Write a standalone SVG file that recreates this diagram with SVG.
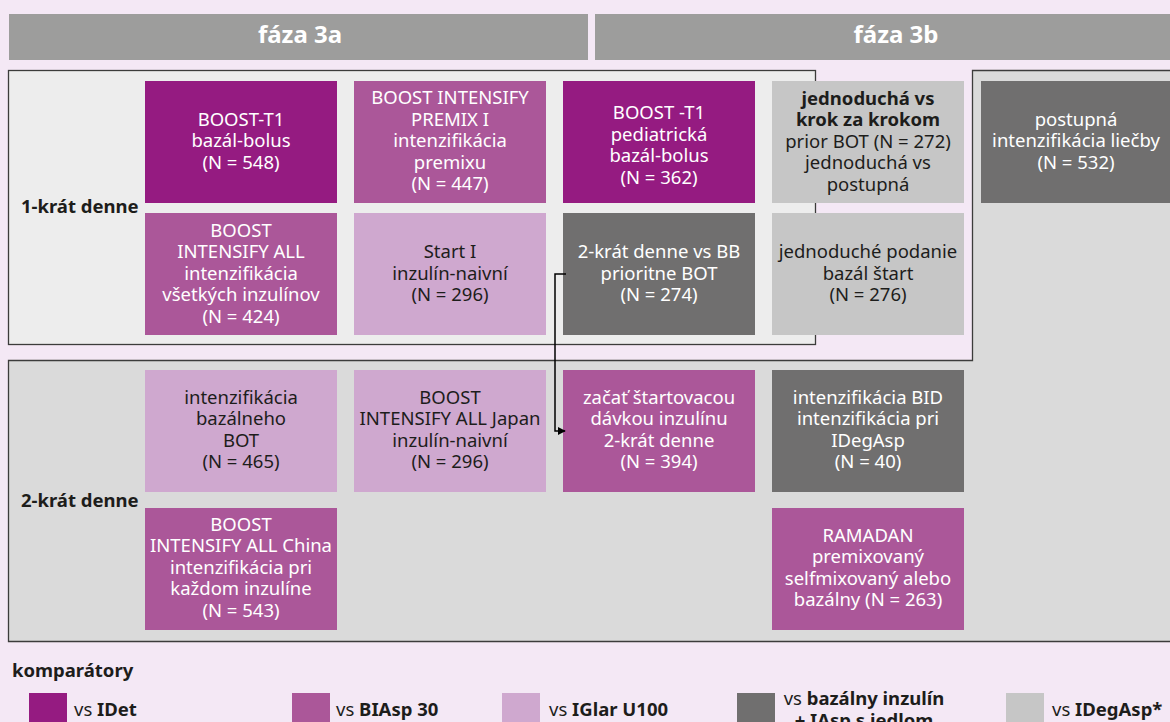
<svg xmlns="http://www.w3.org/2000/svg" width="1170" height="722" viewBox="0 0 1170 722">
<style>
text{font-family:"Noto Sans","Open Sans","Liberation Sans",sans-serif;font-size:18.5px}
.hd{font-size:24px;font-weight:bold;fill:#ffffff;text-anchor:middle}
.lbl{font-weight:bold;fill:#1d1d1b}
.b{font-weight:bold}
.idet{fill:#951b81}
.biasp{fill:#ab5799}
.iglar{fill:#cfa8cf}
.basal{fill:#706f6f}
.idegasp{fill:#c6c6c6}
.tw{fill:#ffffff;text-anchor:middle}
.td{fill:#1d1d1b;text-anchor:middle}
.lg{fill:#1d1d1b}
.conn{fill:none;stroke:#000000;stroke-width:1.5}
</style>
<defs>
<marker id="arr" viewBox="0 0 10 10" refX="9" refY="5" markerWidth="8" markerHeight="8" markerUnits="userSpaceOnUse" orient="auto">
<path d="M0,0 L10,5 L0,10 Z" fill="#000000"/>
</marker>
</defs>
<rect x="0" y="0" width="1170" height="722" fill="#f4e8f5"/>
<g id="headers">
<rect x="9" y="14" width="579" height="46" fill="#9d9d9c"/>
<rect x="595" y="14" width="600" height="46" fill="#9d9d9c"/>
<text class="hd" x="300" y="43">fáza 3a</text>
<text class="hd" x="896" y="43">fáza 3b</text>
</g>
<g id="containers">
<path d="M8.5,360.5 H972.5 V70.5 H1180 V641.5 H8.5 Z" fill="#dadada" stroke="#3c3c3b" stroke-width="1.3"/>
<rect x="8.5" y="70.5" width="807" height="274" fill="#ededed" stroke="#3c3c3b" stroke-width="1.3"/>
<text class="lbl" x="21" y="213">1-krát denne</text>
<text class="lbl" x="21" y="507">2-krát denne</text>
</g>
<g id="n1"><rect class="idet" x="145" y="81" width="192" height="122"/>
<text class="tw" x="241" y="125.5">BOOST-T1</text><text class="tw" x="241" y="147">bazál-bolus</text><text class="tw" x="241" y="168.5">(N = 548)</text></g>
<g id="n2"><rect class="biasp" x="354" y="81" width="192" height="122"/>
<text class="tw" x="450" y="104">BOOST INTENSIFY</text><text class="tw" x="450" y="125.5">PREMIX I</text><text class="tw" x="450" y="147">intenzifikácia</text><text class="tw" x="450" y="168.5">premixu</text><text class="tw" x="450" y="190">(N = 447)</text></g>
<g id="n3"><rect class="idet" x="563" y="81" width="192" height="122"/>
<text class="tw" x="659" y="119">BOOST -T1</text><text class="tw" x="659" y="140.5">pediatrická</text><text class="tw" x="659" y="162">bazál-bolus</text><text class="tw" x="659" y="183.5">(N = 362)</text></g>
<g id="n4"><rect class="idegasp" x="772" y="81" width="192" height="122"/>
<text class="td b" x="868" y="104.5">jednoduchá vs</text><text class="td b" x="868" y="126">krok za krokom</text><text class="td" x="868" y="147.5">prior BOT (N = 272)</text><text class="td" x="868" y="169">jednoduchá vs</text><text class="td" x="868" y="190.5">postupná</text></g>
<g id="n5"><rect class="basal" x="981" y="81" width="192" height="122"/>
<text class="tw" x="1076" y="125.5">postupná</text><text class="tw" x="1076" y="147">intenzifikácia liečby</text><text class="tw" x="1076" y="168.5">(N = 532)</text></g>
<g id="n6"><rect class="biasp" x="145" y="213" width="192" height="122"/>
<text class="tw" x="241" y="236.5">BOOST</text><text class="tw" x="241" y="258">INTENSIFY ALL</text><text class="tw" x="241" y="279.5">intenzifikácia</text><text class="tw" x="241" y="301">všetkých inzulínov</text><text class="tw" x="241" y="322.5">(N = 424)</text></g>
<g id="n7"><rect class="iglar" x="354" y="213" width="192" height="122"/>
<text class="td" x="450" y="258">Start I</text><text class="td" x="450" y="279.5">inzulín-naivní</text><text class="td" x="450" y="301">(N = 296)</text></g>
<g id="n8"><rect class="basal" x="563" y="213" width="192" height="122"/>
<text class="tw" x="659" y="258">2-krát denne vs BB</text><text class="tw" x="659" y="279.5">prioritne BOT</text><text class="tw" x="659" y="301">(N = 274)</text></g>
<g id="n9"><rect class="idegasp" x="772" y="213" width="192" height="122"/>
<text class="td" x="868" y="258">jednoduché podanie</text><text class="td" x="868" y="279.5">bazál štart</text><text class="td" x="868" y="301">(N = 276)</text></g>
<g id="n10"><rect class="iglar" x="145" y="370" width="192" height="122"/>
<text class="td" x="241" y="403.5">intenzifikácia</text><text class="td" x="241" y="425">bazálneho</text><text class="td" x="241" y="446.5">BOT</text><text class="td" x="241" y="468">(N = 465)</text></g>
<g id="n11"><rect class="iglar" x="354" y="370" width="192" height="122"/>
<text class="td" x="450" y="403.5">BOOST</text><text class="td" x="450" y="425">INTENSIFY ALL Japan</text><text class="td" x="450" y="446.5">inzulín-naivní</text><text class="td" x="450" y="468">(N = 296)</text></g>
<g id="n12"><rect class="biasp" x="563" y="370" width="192" height="122"/>
<text class="tw" x="659" y="403.5">začať štartovacou</text><text class="tw" x="659" y="425">dávkou inzulínu</text><text class="tw" x="659" y="446.5">2-krát denne</text><text class="tw" x="659" y="468">(N = 394)</text></g>
<g id="n13"><rect class="basal" x="772" y="370" width="192" height="122"/>
<text class="tw" x="868" y="403.5">intenzifikácia BID</text><text class="tw" x="868" y="425">intenzifikácia pri</text><text class="tw" x="868" y="446.5">IDegAsp</text><text class="tw" x="868" y="468">(N = 40)</text></g>
<g id="n14"><rect class="biasp" x="145" y="508" width="192" height="122"/>
<text class="tw" x="241" y="530.5">BOOST</text><text class="tw" x="241" y="552">INTENSIFY ALL China</text><text class="tw" x="241" y="573.5">intenzifikácia pri</text><text class="tw" x="241" y="595">každom inzulíne</text><text class="tw" x="241" y="616.5">(N = 543)</text></g>
<g id="n15"><rect class="biasp" x="772" y="508" width="192" height="122"/>
<text class="tw" x="868" y="541.5">RAMADAN</text><text class="tw" x="868" y="563">premixovaný</text><text class="tw" x="868" y="584.5">selfmixovaný alebo</text><text class="tw" x="868" y="606">bazálny (N = 263)</text></g>
<g id="connectors">
<path class="conn" d="M566,274 H555 V431 H565" marker-end="url(#arr)"/>
</g>
<g id="legend">
<text class="lbl" x="12" y="677">komparátory</text>
<rect class="idet" x="29" y="693" width="38" height="38"/>
<text class="lg" x="74" y="716">vs <tspan class="b">IDet</tspan></text>
<rect class="biasp" x="292" y="693" width="38" height="38"/>
<text class="lg" x="336" y="716">vs <tspan class="b">BIAsp 30</tspan></text>
<rect class="iglar" x="502" y="693" width="38" height="38"/>
<text class="lg" x="549" y="716">vs <tspan class="b">IGlar U100</tspan></text>
<rect class="basal" x="737" y="693" width="38" height="38"/>
<text class="lg" x="864" y="705" text-anchor="middle">vs <tspan class="b">bazálny inzulín</tspan></text>
<text class="lg b" x="864" y="727" text-anchor="middle">+ IAsp s jedlom</text>
<rect class="idegasp" x="1006" y="693" width="38" height="38"/>
<text class="lg" x="1052" y="716">vs <tspan class="b">IDegAsp*</tspan></text>
</g>
</svg>
